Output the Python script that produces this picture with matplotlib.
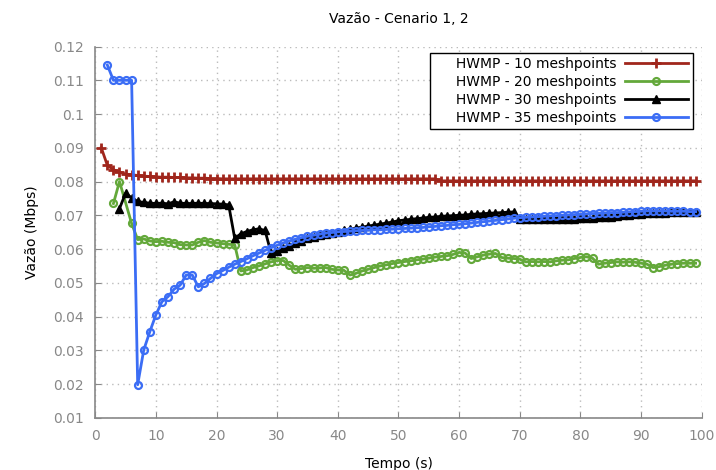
import matplotlib
matplotlib.use("Agg")
import matplotlib.pyplot as plt
import numpy as np

# time (s) and throughput (Mbps) per scenario
t_10 = list(range(1, 100))
v_10 = [0.0900, 0.0848, 0.0835, 0.0828, 0.0822, 0.0820, 0.0818, 0.0816, 0.0815, 0.0814,
        0.0813, 0.0813, 0.0812, 0.0812, 0.0811, 0.0811, 0.0810, 0.0810, 0.0809, 0.0809,
        0.0808, 0.0808, 0.0808, 0.0808, 0.0808, 0.0808, 0.0808, 0.0808, 0.0808, 0.0808,
        0.0808, 0.0808, 0.0808, 0.0808, 0.0808, 0.0808, 0.0808, 0.0808, 0.0808, 0.0808,
        0.0808, 0.0808, 0.0808, 0.0808, 0.0808, 0.0808, 0.0808, 0.0808, 0.0808, 0.0808,
        0.0808, 0.0808, 0.0808, 0.0808, 0.0808, 0.0808, 0.0802, 0.0802, 0.0802, 0.0802,
        0.0802, 0.0802, 0.0802, 0.0802, 0.0802, 0.0802, 0.0802, 0.0802, 0.0802, 0.0802,
        0.0802, 0.0802, 0.0802, 0.0802, 0.0802, 0.0802, 0.0802, 0.0802, 0.0802, 0.0802,
        0.0802, 0.0802, 0.0802, 0.0802, 0.0802, 0.0802, 0.0802, 0.0802, 0.0802, 0.0802,
        0.0802, 0.0802, 0.0802, 0.0802, 0.0802, 0.0802, 0.0802, 0.0802, 0.0802]

t_20 = [3, 4] + list(range(6, 100))
v_20 = [0.0735, 0.0800, 0.0676, 0.0628, 0.0630, 0.0624, 0.0622, 0.0623, 0.0620, 0.0619,
        0.0613, 0.0612, 0.0612, 0.0620, 0.0625, 0.0620, 0.0618, 0.0616, 0.0614, 0.0613,
        0.0535, 0.0538, 0.0545, 0.0550, 0.0556, 0.0562, 0.0566, 0.0566, 0.0552, 0.0540,
        0.0542, 0.0545, 0.0543, 0.0544, 0.0545, 0.0540, 0.0538, 0.0537, 0.0523, 0.0528,
        0.0535, 0.0540, 0.0545, 0.0550, 0.0553, 0.0557, 0.0560, 0.0563, 0.0565, 0.0568,
        0.0570, 0.0573, 0.0576, 0.0578, 0.0580, 0.0584, 0.0590, 0.0588, 0.0572, 0.0577,
        0.0582, 0.0585, 0.0587, 0.0575, 0.0573, 0.0572, 0.0570, 0.0562, 0.0563, 0.0562,
        0.0563, 0.0562, 0.0565, 0.0567, 0.0568, 0.0572, 0.0575, 0.0577, 0.0573, 0.0555,
        0.0558, 0.0560, 0.0562, 0.0561, 0.0562, 0.0561, 0.0558, 0.0555, 0.0545, 0.0548,
        0.0552, 0.0555, 0.0557, 0.0558, 0.0558, 0.0558]

t_30 = list(range(4, 100))
v_30 = [0.0720, 0.0765, 0.0752, 0.0741, 0.0738, 0.0736, 0.0735, 0.0736, 0.0734, 0.0740,
        0.0736, 0.0735, 0.0735, 0.0736, 0.0735, 0.0735, 0.0734, 0.0733, 0.0731, 0.0632,
        0.0645, 0.0652, 0.0657, 0.0660, 0.0655, 0.0588, 0.0595, 0.0602, 0.0610, 0.0617,
        0.0625, 0.0632, 0.0637, 0.0641, 0.0645, 0.0648, 0.0651, 0.0655, 0.0658, 0.0662,
        0.0665, 0.0668, 0.0671, 0.0674, 0.0677, 0.0680, 0.0684, 0.0686, 0.0688, 0.0690,
        0.0692, 0.0694, 0.0695, 0.0697, 0.0698, 0.0699, 0.0700, 0.0701, 0.0703, 0.0704,
        0.0705, 0.0706, 0.0707, 0.0708, 0.0709, 0.0710, 0.0690, 0.0690, 0.0689, 0.0689,
        0.0689, 0.0689, 0.0689, 0.0690, 0.0690, 0.0690, 0.0691, 0.0692, 0.0693, 0.0694,
        0.0695, 0.0696, 0.0698, 0.0700, 0.0702, 0.0704, 0.0705, 0.0706, 0.0707, 0.0708,
        0.0708, 0.0709, 0.0709, 0.0710, 0.0710, 0.0710]

t_35 = list(range(2, 100))
v_35 = [0.1145, 0.1100, 0.1100, 0.1100, 0.1100, 0.0198, 0.0301, 0.0355, 0.0405, 0.0444,
        0.0459, 0.0481, 0.0493, 0.0523, 0.0523, 0.0488, 0.0498, 0.0513, 0.0527, 0.0536,
        0.0546, 0.0555, 0.0563, 0.0571, 0.0580, 0.0588, 0.0596, 0.0604, 0.0611, 0.0618,
        0.0624, 0.0629, 0.0634, 0.0638, 0.0641, 0.0644, 0.0647, 0.0649, 0.0651, 0.0652,
        0.0653, 0.0654, 0.0655, 0.0656, 0.0657, 0.0657, 0.0658, 0.0659, 0.0660, 0.0661,
        0.0662, 0.0663, 0.0664, 0.0666, 0.0667, 0.0669, 0.0670, 0.0672, 0.0673, 0.0675,
        0.0677, 0.0679, 0.0681, 0.0683, 0.0685, 0.0687, 0.0689, 0.0691, 0.0693, 0.0694,
        0.0695, 0.0696, 0.0697, 0.0698, 0.0699, 0.0700, 0.0701, 0.0702, 0.0703, 0.0704,
        0.0705, 0.0706, 0.0707, 0.0708, 0.0708, 0.0709, 0.0710, 0.0711, 0.0712, 0.0713,
        0.0713, 0.0713, 0.0713, 0.0712, 0.0712, 0.0712, 0.0711, 0.0711]

fig = plt.figure(figsize=(7.16, 4.70), dpi=100)
ax = fig.add_axes([0.133, 0.111, 0.847, 0.790])

ax.plot(t_10, v_10, color='#a0261c', lw=2, marker='+', ms=7, mew=2,
        label='     HWMP - 10 meshpoints')
ax.plot(t_20, v_20, color='#63a83a', lw=2, marker='o', ms=5, mew=1.6, mfc='none',
        label='     HWMP - 20 meshpoints')
ax.plot(t_30, v_30, color='black', lw=2, marker='^', ms=5.5,
        label='     HWMP - 30 meshpoints')
ax.plot(t_35, v_35, color='#3b6df5', lw=2, marker='o', ms=5, mew=1.6, mfc='none',
        label='     HWMP - 35 meshpoints')

ax.set_xlim(0, 100)
ax.set_ylim(0.01, 0.12)
ax.set_xticks(np.arange(0, 101, 10))
ax.set_yticks(np.arange(0.01, 0.1201, 0.01))
ax.set_yticklabels(['%g' % round(v, 2) for v in np.arange(0.01, 0.1201, 0.01)])

ax.grid(True, color='#bbbbbb', linestyle=(0, (1, 3)), lw=1)
for s in ['top', 'right']:
    ax.spines[s].set_visible(False)
for s in ['left', 'bottom']:
    ax.spines[s].set_color('#888888')
    ax.spines[s].set_linewidth(1.2)
ax.tick_params(direction='in', length=4, color='#888888', labelcolor='#888888',
               labelsize=10, pad=8)

ax.set_title('Vazão - Cenario 1, 2', fontsize=10, pad=17)
ax.set_xlabel('Tempo (s)', fontsize=10, labelpad=10)
ax.set_ylabel('Vazão (Mbps)', fontsize=10, labelpad=10)

leg = ax.legend(loc='upper right', bbox_to_anchor=(0.985, 0.983), borderaxespad=0,
                markerfirst=False, fancybox=False, edgecolor='black', framealpha=1,
                fontsize=10, handlelength=4.6, labelspacing=0.28, borderpad=0.3,
                handletextpad=0.6)
leg.get_frame().set_linewidth(1)

fig.savefig('out.png', dpi=100)
